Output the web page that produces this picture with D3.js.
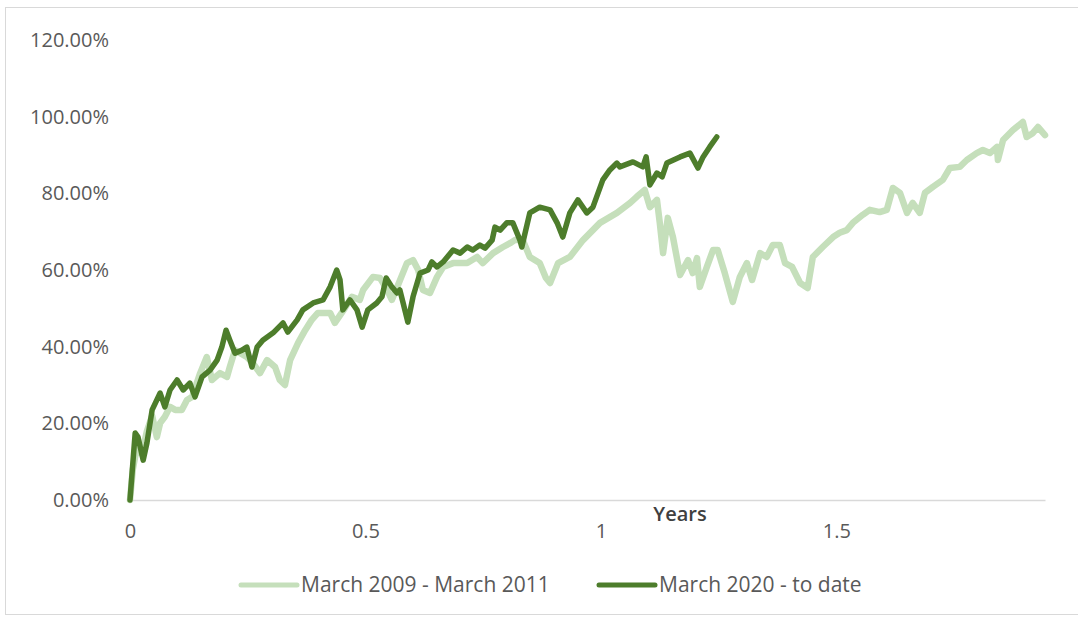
<!DOCTYPE html>
<html>
<head>
<meta charset="utf-8">
<script src="https://cdn.jsdelivr.net/npm/d3@7"></script>
<style>
  body { margin: 0; background: #fff; }
  text { font-family: "Open Sans", "Liberation Sans", sans-serif; }
</style>
</head>
<body>
<script>
// March 2009 - March 2011 (years since start, cumulative return %)
const yearsA = [0, 0.006, 0.015, 0.025, 0.036, 0.047, 0.057, 0.064, 0.074, 0.085, 0.096, 0.110, 0.121, 0.132,
  0.149, 0.163, 0.174, 0.191, 0.206, 0.212, 0.223, 0.248, 0.261, 0.276, 0.291, 0.308, 0.318, 0.329, 0.340,
  0.357, 0.372, 0.386, 0.399, 0.414, 0.425, 0.435, 0.456, 0.471, 0.488, 0.495, 0.516, 0.531, 0.546, 0.556,
  0.569, 0.588, 0.601, 0.612, 0.622, 0.637, 0.652, 0.665, 0.686, 0.716, 0.737, 0.749, 0.771, 0.792, 0.807,
  0.817, 0.834, 0.849, 0.870, 0.883, 0.892, 0.909, 0.934, 0.962, 0.998, 1.034, 1.062, 1.076, 1.093, 1.104,
  1.119, 1.125, 1.132, 1.142, 1.153, 1.168, 1.185, 1.195, 1.204, 1.210, 1.225, 1.238, 1.248, 1.263, 1.280,
  1.295, 1.310, 1.321, 1.338, 1.352, 1.365, 1.380, 1.391, 1.406, 1.423, 1.439, 1.450, 1.471, 1.493, 1.507,
  1.522, 1.535, 1.556, 1.571, 1.592, 1.607, 1.620, 1.635, 1.650, 1.662, 1.677, 1.688, 1.705, 1.726, 1.741,
  1.762, 1.777, 1.798, 1.811, 1.826, 1.841, 1.843, 1.854, 1.875, 1.896, 1.904, 1.917, 1.928, 1.943];
const returnsA = [0, 8, 14, 12, 18, 22, 16.4, 20.1, 21.7, 24.3, 23.5, 23.5, 26.1, 26.9,
  33.1, 37.3, 31.3, 33.1, 32.1, 34.7, 39.1, 37.3, 35.7, 33.1, 36.5, 34.7, 31.3, 30.0, 36.5,
  41.0, 44.3, 47.0, 48.8, 48.8, 48.8, 46.2, 50, 53, 52.2, 54.8, 58.2, 57.9, 54.8, 52.2,
  56, 61.8, 62.6, 60, 54.8, 54.0, 58.2, 60.8, 61.8, 61.8, 63.4, 61.8, 64.4, 66.0, 67.0,
  67.8, 67.8, 63.4, 61.8, 58, 56.6, 61.8, 63.4, 67.8, 72.3, 74.9, 77.5, 79.1, 80.9, 76.4,
  78.3, 72.3, 64.4, 73.6, 68.6, 58.7, 62.6, 59.2, 63.1, 55.6, 60.8, 65.2, 65.2, 59.2, 51.7,
  58.2, 61.8, 57.4, 64.4, 63.4, 66.5, 66.5, 61.8, 60.8, 56.6, 55.3, 63.4, 66.0, 68.6, 69.7,
  70.4, 72.3, 74.4, 75.7, 75.1, 75.7, 81.4, 80.1, 74.9, 77.5, 74.9, 80.1, 81.7, 83.5, 86.6,
  86.9, 88.7, 90.5, 91.3, 90.5, 92.1, 88.7, 93.9, 96.5, 98.6, 94.7, 95.7, 97.3, 95.2];

// March 2020 - to date
const yearsB = [0, 0.006, 0.011, 0.017, 0.028, 0.036, 0.047, 0.064, 0.074, 0.085, 0.100, 0.113, 0.127, 0.138,
  0.153, 0.170, 0.185, 0.195, 0.204, 0.212, 0.223, 0.238, 0.248, 0.259, 0.270, 0.282, 0.304, 0.325, 0.335,
  0.355, 0.367, 0.389, 0.410, 0.425, 0.439, 0.446, 0.452, 0.467, 0.482, 0.493, 0.505, 0.524, 0.535, 0.544,
  0.556, 0.567, 0.573, 0.580, 0.590, 0.601, 0.616, 0.633, 0.641, 0.652, 0.665, 0.686, 0.701, 0.716, 0.728,
  0.743, 0.754, 0.769, 0.775, 0.786, 0.800, 0.813, 0.828, 0.832, 0.849, 0.870, 0.892, 0.907, 0.919, 0.934,
  0.951, 0.970, 0.983, 1.004, 1.019, 1.034, 1.040, 1.068, 1.089, 1.096, 1.104, 1.119, 1.130, 1.140, 1.168,
  1.189, 1.206, 1.217, 1.231, 1.246];
const returnsB = [0, 9.6, 17.5, 16.4, 10.4, 14.9, 23.5, 27.9, 24.3, 28.7, 31.3, 28.7, 30.5, 26.9,
  32.1, 33.9, 36.5, 39.9, 44.3, 41.7, 38.3, 39.1, 39.9, 34.7, 39.9, 41.7, 43.6, 46.2, 43.8,
  47.0, 49.6, 51.4, 52.2, 55.6, 60.0, 57.4, 49.6, 52.2, 49.6, 45.1, 49.6, 51.4, 53.0, 57.9,
  55.6, 54.0, 54.8, 51.4, 46.4, 53.0, 59.2, 60.0, 62.1, 60.8, 62.1, 65.2, 64.4, 66.0, 65.2,
  66.5, 65.7, 67.8, 71.2, 70.4, 72.3, 72.3, 67.8, 66.0, 74.9, 76.4, 75.7, 72.3, 68.6, 74.9,
  78.3, 74.9, 76.4, 83.5, 86.1, 87.9, 86.9, 88.2, 86.9, 89.5, 82.2, 85.3, 84.3, 87.9, 89.5,
  90.5, 86.6, 89.5, 92.1, 94.7];

const seriesNames = ["March 2009 - March 2011", "March 2020 - to date"];
const yTicks = [0, 20, 40, 60, 80, 100, 120];
const xTicks = [0, 0.5, 1, 1.5];

const width = 1078, height = 621;
const colors = ["#c5dfbb", "#4d7d2b"];
const strokeW = [6.5, 5.5];

const svg = d3.select("body").append("svg")
  .attr("width", width)
  .attr("height", height);

// chart frame
svg.append("rect")
  .attr("x", 5.5).attr("y", 7.5)
  .attr("width", 1100).attr("height", 607)
  .attr("fill", "none")
  .attr("stroke", "#d9d9d9");

var x = d3.scaleLinear().domain([0, 1.943]).range([130, 1045]);
var y = d3.scaleLinear().domain([0, 120]).range([500, 40]);

// y axis labels
svg.append("g")
  .attr("transform", "translate(109,0)")
  .call(d3.axisLeft(y).tickValues(yTicks).tickSize(0).tickPadding(0)
    .tickFormat(d => d.toFixed(2) + "%"))
  .call(g => g.select(".domain").remove())
  .selectAll("text")
  .attr("fill", "#595959")
  .style("font-size", "20px");

// x axis
const xg = svg.append("g")
  .attr("transform", "translate(0,500)")
  .call(d3.axisBottom(x).tickValues(xTicks).tickSize(0).tickPadding(24)
    .tickFormat(d3.format("")));
xg.select(".domain").attr("stroke", "#d9d9d9").attr("stroke-width", 1.5);
xg.selectAll("text")
  .attr("fill", "#595959")
  .style("font-size", "20px");

svg.append("text")
  .attr("x", 680).attr("y", 521)
  .attr("text-anchor", "middle")
  .attr("fill", "#404040")
  .style("font-size", "20px")
  .style("font-weight", "600")
  .text("Years");

var line = d3.line()
  .x(d => x(d[0]))
  .y(d => y(d[1]));

const series = [
  d3.zip(yearsA, returnsA),
  d3.zip(yearsB, returnsB)
];

svg.selectAll("path.series")
  .data(series)
  .enter().append("path")
  .attr("class", "series")
  .attr("d", line)
  .attr("fill", "none")
  .attr("stroke", (d, i) => colors[i])
  .attr("stroke-width", (d, i) => strokeW[i])
  .attr("stroke-linejoin", "round")
  .attr("stroke-linecap", "round");

// legend
const legendX = [241, 599];
const leg = svg.selectAll("g.legend")
  .data(seriesNames)
  .enter().append("g")
  .attr("class", "legend")
  .attr("transform", (d, i) => "translate(" + legendX[i] + ",585)");

leg.append("line")
  .attr("x1", 0).attr("x2", 56)
  .attr("stroke", (d, i) => colors[i])
  .attr("stroke-width", 5)
  .attr("stroke-linecap", "round");

leg.append("text")
  .attr("x", 60).attr("dy", "0.35em")
  .attr("fill", "#595959")
  .style("font-size", "21px")
  .text(d => d);
</script>
</body>
</html>
